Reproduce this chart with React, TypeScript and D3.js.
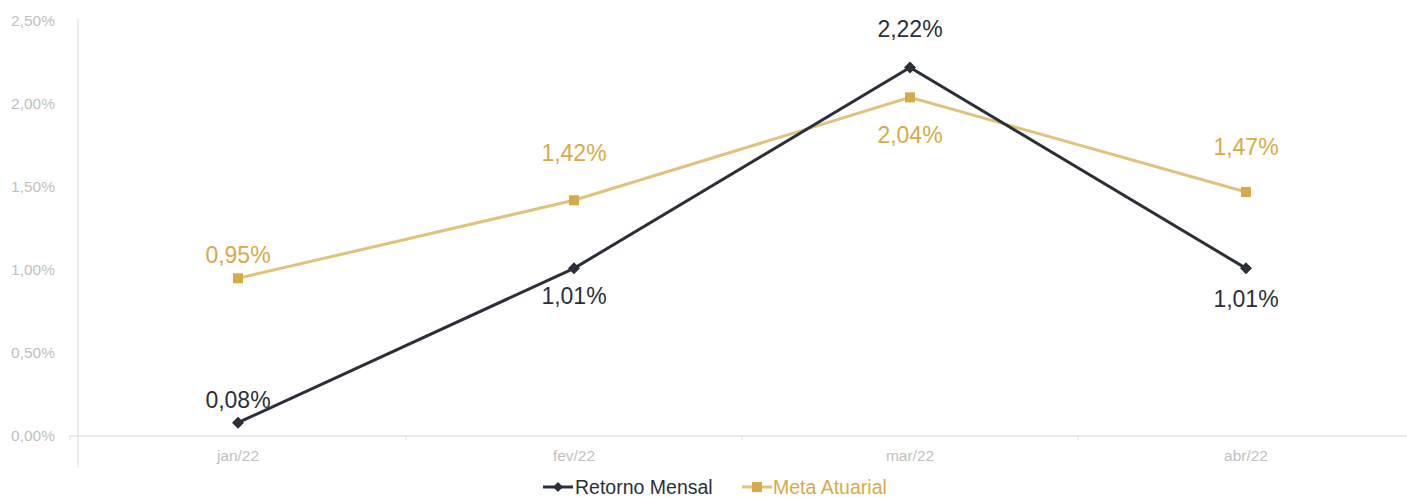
import React from 'react';
import * as d3 from 'd3';

const categories = ['jan/22', 'fev/22', 'mar/22', 'abr/22'];
const retornoMensal = [0.08, 1.01, 2.22, 1.01];
const metaAtuarial = [0.95, 1.42, 2.04, 1.47];
const yTicks = [0, 0.5, 1, 1.5, 2, 2.5];

// vertical label offsets from the point (layout only)
const retornoLabelDy = [-23, 28, -39, 31];
const metaLabelDy = [-23, -47, 38, -45];

const W = 1407;
const H = 497;
const DARK = '#2b3038';
const GOLD_LINE = '#e0c27c';
const GOLD = '#d6aa4a';
const GRID = '#d9d9d9';
const TICK_TEXT = '#bfbfbf';

const fmt = (v: number) => v.toFixed(2).replace('.', ',') + '%';

export default function App() {
  const x = d3.scaleBand<string>().domain(categories).range([70, 1414]);
  const y = d3.scaleLinear().domain([0, 2.5]).range([436, 21]);
  const cx = (c: string) => (x(c) ?? 0) + x.bandwidth() / 2;

  const line = d3
    .line<number>()
    .x((_, i) => cx(categories[i]))
    .y((d) => y(d));

  const font = 'Arial, "Liberation Sans", sans-serif';

  return (
    <svg width={W} height={H} style={{ position: 'absolute', left: 0, top: 0, fontFamily: font }}>
      {/* y axis */}
      <line x1={78} x2={78} y1={19} y2={468} stroke={GRID} strokeWidth={1} />
      {yTicks.map((t) => (
        <text key={t} x={55} y={y(t)} dy="0.35em" textAnchor="end" fontSize={15.5} fill={TICK_TEXT}>
          {fmt(t)}
        </text>
      ))}
      {/* x axis */}
      <line x1={70} x2={W} y1={y(0)} y2={y(0)} stroke={GRID} strokeWidth={1} />
      {categories.map((c) => (
        <line key={c} x1={x(c)} x2={x(c)} y1={y(0)} y2={y(0) + 4} stroke={GRID} strokeWidth={1} />
      ))}
      {categories.map((c) => (
        <text key={c} x={cx(c)} y={456} dy="0.35em" textAnchor="middle" fontSize={15.5} fill={TICK_TEXT}>
          {c}
        </text>
      ))}

      {/* meta atuarial */}
      <path d={line(metaAtuarial) ?? ''} fill="none" stroke={GOLD_LINE} strokeWidth={3} />
      {metaAtuarial.map((v, i) => (
        <rect key={i} x={cx(categories[i]) - 5} y={y(v) - 5} width={10} height={10} fill={GOLD} />
      ))}

      {/* retorno mensal */}
      <path d={line(retornoMensal) ?? ''} fill="none" stroke={DARK} strokeWidth={3} />
      {retornoMensal.map((v, i) => (
        <path
          key={i}
          transform={`translate(${cx(categories[i])},${y(v)})`}
          d="M0,-6L6,0L0,6L-6,0Z"
          fill={DARK}
        />
      ))}

      {/* labels */}
      {metaAtuarial.map((v, i) => (
        <text
          key={i}
          x={cx(categories[i])}
          y={y(v) + metaLabelDy[i]}
          dy="0.35em"
          textAnchor="middle"
          fontSize={23}
          fill={GOLD}
        >
          {fmt(v)}
        </text>
      ))}
      {retornoMensal.map((v, i) => (
        <text
          key={i}
          x={cx(categories[i])}
          y={y(v) + retornoLabelDy[i]}
          dy="0.35em"
          textAnchor="middle"
          fontSize={23}
          fill={DARK}
        >
          {fmt(v)}
        </text>
      ))}

      {/* legend */}
      <g transform="translate(543,487)">
        <line x1={0} x2={30} y1={0} y2={0} stroke={DARK} strokeWidth={3} />
        <path transform="translate(15,0)" d="M0,-5L5,0L0,5L-5,0Z" fill={DARK} />
        <text x={32} dy="0.35em" fontSize={19.5} fill={DARK}>
          Retorno Mensal
        </text>
        <line x1={199} x2={229} y1={0} y2={0} stroke={GOLD_LINE} strokeWidth={3} />
        <rect x={209} y={-5} width={10} height={10} fill={GOLD} />
        <text x={230} dy="0.35em" fontSize={19.5} fill={GOLD}>
          Meta Atuarial
        </text>
      </g>
    </svg>
  );
}
